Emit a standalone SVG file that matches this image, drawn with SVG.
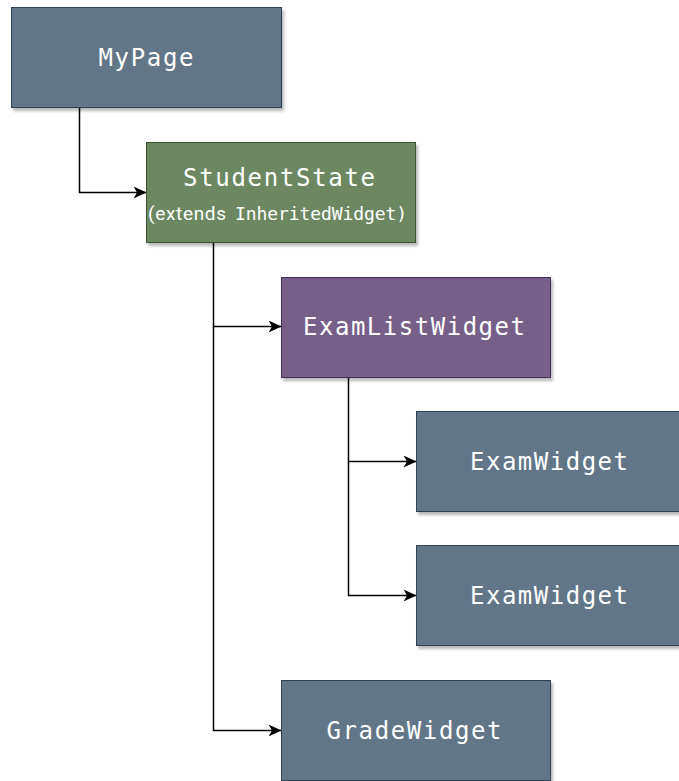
<svg xmlns="http://www.w3.org/2000/svg" width="679" height="781" viewBox="0 0 679 781">
  <defs>
    <filter id="shadow" x="-10%" y="-10%" width="130%" height="140%">
      <feDropShadow dx="2" dy="3" stdDeviation="1.6" flood-color="#000" flood-opacity="0.28"/>
    </filter>
    <marker id="arrow" viewBox="0 0 13 12" refX="12.5" refY="6" markerWidth="13" markerHeight="12" markerUnits="userSpaceOnUse" orient="auto">
      <path d="M0,0 L13,6 L0,12 L3.5,6 Z" fill="#000"/>
    </marker>
    <style>
      .box { stroke-width: 1; filter: url(#shadow); }
      .grey { fill: #647687; stroke: #314354; }
      .green { fill: #6d8764; stroke: #3a5431; }
      .purple { fill: #76608a; stroke: #432d57; }
      .label { font-family: "DejaVu Sans Mono", "Liberation Mono", monospace; font-size: 24px; fill: #ffffff; text-anchor: middle; }
      .sub { font-size: 18px; text-anchor: start; }
      .sans { font-family: Roboto, "Noto Sans", sans-serif; font-size: 19px; }
      .link { fill: none; stroke: #000; stroke-width: 1.5; marker-end: url(#arrow); }
    </style>
  </defs>

  <g id="connectors">
    <path class="link" d="M79.5,108 V192.5 H146"/>
    <path class="link" d="M213.5,243 V326.5 H281"/>
    <path class="link" d="M213.5,326.5 V730.5 H281"/>
    <path class="link" d="M348.5,377 V461.5 H416"/>
    <path class="link" d="M348.5,461.5 V595.5 H416"/>
  </g>

  <g id="node-mypage">
    <rect class="box grey" x="11.5" y="7.5" width="270" height="100"/>
    <text class="label" x="146" y="66" textLength="95" lengthAdjust="spacing">MyPage</text>
  </g>

  <g id="node-studentstate">
    <rect class="box green" x="146.5" y="142.5" width="269" height="100"/>
    <text class="label" x="279" y="186" textLength="192" lengthAdjust="spacing">StudentState</text>
    <text class="label sub" x="148" y="220"><tspan class="sans" textLength="78" lengthAdjust="spacing">(extends</tspan><tspan x="235" textLength="172" lengthAdjust="spacing">InheritedWidget)</tspan></text>
  </g>

  <g id="node-examlistwidget">
    <rect class="box purple" x="281.5" y="277.5" width="269" height="100"/>
    <text class="label" x="414" y="335" textLength="222" lengthAdjust="spacing">ExamListWidget</text>
  </g>

  <g id="node-examwidget-1">
    <rect class="box grey" x="416.5" y="411.5" width="270" height="100"/>
    <text class="label" x="549" y="470" textLength="158" lengthAdjust="spacing">ExamWidget</text>
  </g>

  <g id="node-examwidget-2">
    <rect class="box grey" x="416.5" y="545.5" width="270" height="100"/>
    <text class="label" x="549" y="604" textLength="158" lengthAdjust="spacing">ExamWidget</text>
  </g>

  <g id="node-gradewidget">
    <rect class="box grey" x="281.5" y="680.5" width="269" height="100"/>
    <text class="label" x="414" y="739" textLength="175" lengthAdjust="spacing">GradeWidget</text>
  </g>
</svg>
